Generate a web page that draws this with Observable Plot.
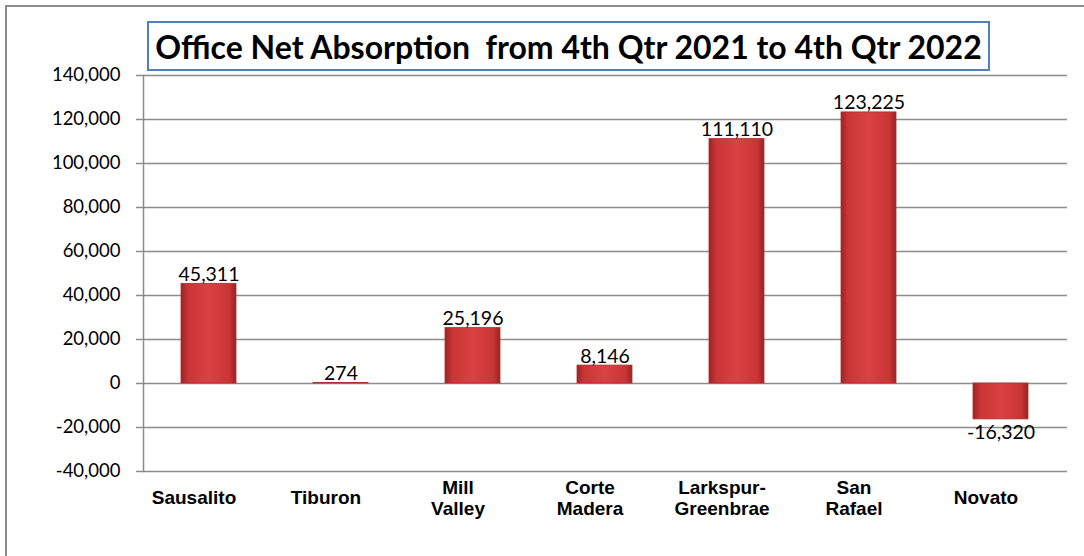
<!DOCTYPE html>
<html><head><meta charset="utf-8">
<script src="https://cdn.jsdelivr.net/npm/d3@7"></script>
<script src="https://cdn.jsdelivr.net/npm/@observablehq/plot@0.6"></script>
<style>
html,body{margin:0;padding:0;background:#fff;}
#wrap{position:relative;width:1084px;height:556px;overflow:hidden;background:#fff;}
#frame{position:absolute;left:5px;top:5px;width:1200px;height:700px;border-left:2px solid #8c8c8c;border-top:2px solid #8c8c8c;pointer-events:none;}
#title{position:absolute;left:147px;top:21px;width:839px;height:46px;border:2px solid #4f81bd;background:#fff;
  font-family:Lato,"Open Sans",sans-serif;font-weight:bold;font-size:32px;color:#000;
  display:flex;align-items:center;justify-content:center;white-space:pre;}
</style></head>
<body>
<div id="wrap"><div id="chart"></div><div id="title">Office Net Absorption  from 4th Qtr 2021 to 4th Qtr 2022</div><div id="frame"></div></div>
<script>
const categories = ["Sausalito","Tiburon","Mill Valley","Corte Madera","Larkspur-Greenbrae","San Rafael","Novato"];
const tickLabels = ["Sausalito","Tiburon","Mill\nValley","Corte\nMadera","Larkspur-\nGreenbrae","San\nRafael","Novato"];
const values = [45311, 274, 25196, 8146, 111110, 123225, -16320];
const yTicks = [-40000,-20000,0,20000,40000,60000,80000,100000,120000,140000];

const data = categories.map((c,i)=>({cat:c, label:tickLabels[i], value:values[i]}));
const fmt = d => d3.format(",")(d).replace("\u2212","-");

const svg = Plot.plot({
  width:1084, height:556,
  marginLeft:143, marginRight:17, marginTop:75, marginBottom:85,
  style:{background:"transparent"},
  x:{domain:categories, paddingInner:0.58, paddingOuter:0.29, axis:null},
  y:{domain:[-40000,140000], axis:null},
  marks:[
    Plot.gridY(yTicks,{stroke:"#8c8c8c", strokeOpacity:1, strokeWidth:1.5}),
    Plot.frame({anchor:"left", stroke:"#8c8c8c", strokeWidth:1.5}),
    Plot.axisY(yTicks,{tickSize:7, tickPadding:16, tickFormat:fmt, label:null, stroke:"#8c8c8c", strokeWidth:1.5,
      fontFamily:"Lato", fontSize:18.5, fill:"#000"}),
    Plot.barY(data,{x:"cat", y:"value", fill:"url(#barGrad)", stroke:"#a83232", strokeWidth:0.8, ariaLabel:"bars"}),
    Plot.text(data.filter(d=>d.value>=0),{x:"cat", y:"value", text:d=>fmt(d.value), lineAnchor:"bottom", dy:-3,
      fontFamily:"Lato", fontSize:19.5, fill:"#000"}),
    Plot.text(data.filter(d=>d.value<0),{x:"cat", y:"value", text:d=>fmt(d.value), lineAnchor:"top", dy:6,
      fontFamily:"Lato", fontSize:19.5, fill:"#000"}),
    Plot.text(data,{x:"cat", text:"label", frameAnchor:"bottom", dy:26, dx:-15, lineAnchor:"middle", lineHeight:1.1,
      fontFamily:"Liberation Sans", fontWeight:"bold", fontSize:19, fill:"#000", ariaLabel:"catlabels"})
  ]
});
const s = d3.select(svg);
s.insert("defs",":first-child").html(`
  <linearGradient id="barGrad" x1="0" x2="1" y1="0" y2="0">
    <stop offset="0" stop-color="#9a2222"/>
    <stop offset="0.12" stop-color="#c93434"/>
    <stop offset="0.5" stop-color="#d94242"/>
    <stop offset="0.88" stop-color="#c93434"/>
    <stop offset="1" stop-color="#9a2222"/>
  </linearGradient>
  <filter id="shadow" x="-20%" y="-20%" width="140%" height="140%">
    <feDropShadow dx="0" dy="2" stdDeviation="2" flood-color="#000" flood-opacity="0.3"/>
  </filter>`);
s.selectAll('g[aria-label="bars"]').attr("filter","url(#shadow)");
s.selectAll('g[aria-label="catlabels"] text').style("letter-spacing","1.8px");
document.getElementById("chart").appendChild(svg);
</script>
</body></html>
